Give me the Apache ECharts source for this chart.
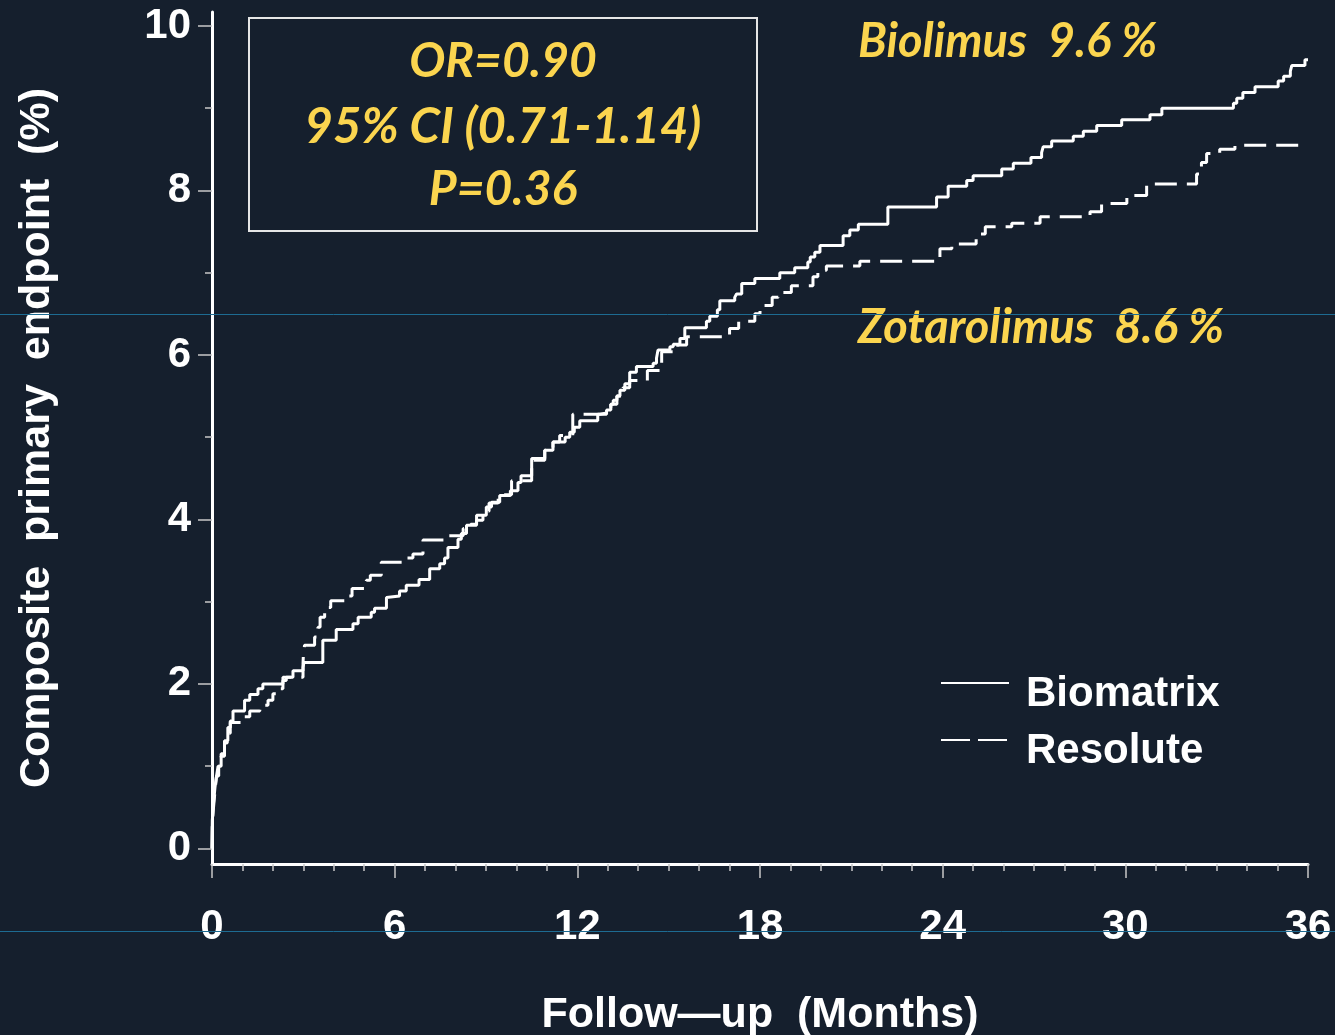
<!DOCTYPE html>
<html>
<head>
<meta charset="utf-8">
<script src="https://cdn.jsdelivr.net/npm/echarts@6/dist/echarts.min.js"></script>
<style>
html,body{margin:0;padding:0;background:#151f2d;}
#c{width:1335px;height:1035px;}
</style>
</head>
<body>
<div id="c"></div>
<script>
// ---- data ----
const bioMonths = [0,0.01,0.05,0.1,0.14,0.2,0.3,0.41,0.52,0.6,0.69,1.07,1.24,1.51,1.67,2.33,2.44,2.66,2.99,3.02,3.64,4.08,4.63,4.8,5.23,5.34,5.73,5.78,6.16,6.38,6.8,7.15,7.48,7.64,7.75,8.08,8.19,8.36,8.69,9.01,9.18,9.45,9.8,10.05,10.15,10.5,10.93,11.2,11.6,11.75,11.9,12.08,12.67,12.96,13.1,13.18,13.3,13.4,13.56,13.72,13.94,14.49,14.6,14.65,15.04,15.15,15.37,15.53,16.24,16.35,16.6,16.68,17.17,17.23,17.4,17.83,18.65,19.14,19.57,19.65,19.8,19.97,20.73,20.95,21.23,22.2,23.8,24.18,24.79,25.0,25.94,26.32,26.9,27.25,27.3,27.58,28.29,28.62,29.06,29.88,30.81,31.2,33.55,33.66,33.86,34.26,35.02,35.2,35.42,35.47,35.9,36];
const bioPct    = [0,0.34,0.55,0.75,0.86,1.0,1.15,1.31,1.47,1.55,1.67,1.8,1.87,1.94,2.0,2.04,2.08,2.16,2.2,2.26,2.53,2.66,2.73,2.81,2.87,2.92,3.05,3.07,3.13,3.2,3.27,3.4,3.46,3.53,3.66,3.76,3.83,3.93,4.05,4.15,4.21,4.29,4.35,4.45,4.53,4.74,4.84,4.94,5.0,5.06,5.12,5.2,5.28,5.33,5.4,5.45,5.5,5.57,5.65,5.79,5.86,5.9,5.96,6.06,6.1,6.13,6.2,6.33,6.41,6.47,6.55,6.66,6.7,6.74,6.87,6.93,7.0,7.06,7.13,7.19,7.25,7.33,7.45,7.52,7.59,7.8,7.92,8.05,8.12,8.18,8.26,8.33,8.4,8.46,8.53,8.6,8.66,8.72,8.79,8.86,8.92,9.0,9.06,9.12,9.19,9.26,9.33,9.39,9.45,9.52,9.59,9.59];

const resMonths = [0,0.01,0.05,0.1,0.15,0.22,0.3,0.41,0.5,0.6,1.0,1.24,1.57,1.84,2.0,2.1,2.33,2.99,3.0,3.04,3.37,3.48,3.55,3.7,3.9,4.36,4.6,5.07,5.2,5.56,6.42,6.6,6.93,7.7,8.25,8.5,8.69,8.9,9.1,9.4,9.84,10.5,10.93,11.2,11.42,11.85,12.74,13.1,13.3,13.5,13.72,14.3,14.77,15.3,15.59,17.0,17.3,17.83,18.0,18.4,18.6,19.03,19.74,19.9,20.18,21.28,23.91,24.3,25.1,25.4,26.27,27.2,28.84,29.22,30.05,30.7,32.34,32.5,32.67,33.1,33.6,36];
const resPct    = [0,0.3,0.5,0.7,0.88,1.0,1.12,1.28,1.4,1.53,1.6,1.67,1.74,1.8,1.88,1.94,2.08,2.25,2.34,2.47,2.57,2.69,2.81,2.93,3.01,3.07,3.16,3.26,3.32,3.48,3.53,3.58,3.75,3.8,3.89,3.94,3.99,4.1,4.2,4.3,4.47,4.72,4.84,4.94,5.02,5.28,5.3,5.4,5.5,5.6,5.69,5.81,6.04,6.12,6.22,6.32,6.41,6.5,6.6,6.7,6.76,6.84,6.95,7.03,7.08,7.14,7.29,7.35,7.47,7.56,7.6,7.68,7.74,7.84,7.94,8.08,8.2,8.34,8.45,8.5,8.55,8.55];

const xTickLabels = [0,6,12,18,24,30,36];
const xMinorTicks = [0,1,2,3,4,5,6,7,8,9,10,11,12,13,14,15,16,17,18,19,20,21,22,23,24,25,26,27,28,29,30,31,32,33,34,35,36];
const yTickLabels = [0,2,4,6,8,10];
const yMinorTicks = [1,3,5,7,9];

const seriesNames = ['Biomatrix','Resolute'];
const boxLines = ['OR=0.90','95% CI (0.71-1.14)','P=0.36'];
const endLabels = ['Biolimus  9.6 %','Zotarolimus  8.6 %'];

// ---- chart ----
const zip = (a,b) => a.map((v,i)=>[v,b[i]]);
const WHITE = '#ffffff';
const YEL = '#fbd54f';
const TICK = '#c8c8c8';
const AX = 'Liberation Sans, Arial, sans-serif';
const CAL = 'Lato, Open Sans, sans-serif';
const TEAL = '#1d6b92';

const chart = echarts.init(document.getElementById('c'), null, {renderer:'canvas'});
chart.setOption({
  backgroundColor:'#151f2d',
  animation:false,
  grid:{left:212,right:27,top:12,bottom:171,containLabel:false,outerBoundsMode:'none'},
  xAxis:[
    {type:'value',min:0,max:36,position:'bottom',
     axisLine:{show:true,onZero:false,lineStyle:{color:WHITE,width:3}},
     axisTick:{show:true,customValues:xTickLabels,length:14,lineStyle:{color:TICK,width:1.5}},
     axisLabel:{show:true,customValues:xTickLabels,color:WHITE,fontSize:42,fontWeight:'bold',fontFamily:AX,margin:42},
     splitLine:{show:false},
     name:'Follow\u2014up  (Months)',nameLocation:'middle',nameGap:130,
     nameTextStyle:{color:WHITE,fontSize:43,fontWeight:'bold',fontFamily:AX}},
    {type:'value',min:0,max:36,position:'bottom',
     axisLine:{show:false,onZero:false},
     axisTick:{show:true,customValues:xMinorTicks,length:7,lineStyle:{color:TICK,width:1.5}},
     axisLabel:{show:false},splitLine:{show:false}}
  ],
  yAxis:[
    {type:'value',min:-0.19,max:10.17,position:'left',
     axisLine:{show:true,onZero:false,lineStyle:{color:WHITE,width:3}},
     axisTick:{show:true,customValues:yTickLabels,length:14,lineStyle:{color:TICK,width:1.5}},
     axisLabel:{show:true,customValues:yTickLabels,color:WHITE,fontSize:42,fontWeight:'bold',fontFamily:AX,margin:21},
     splitLine:{show:false},
     name:'Composite  primary  endpoint  (%)',nameLocation:'middle',nameRotate:90,nameGap:153,
     nameTextStyle:{color:WHITE,fontSize:43,fontWeight:'bold',fontFamily:AX}},
    {type:'value',min:-0.19,max:10.17,position:'left',
     axisLine:{show:false,onZero:false},
     axisTick:{show:true,customValues:yMinorTicks,length:7,lineStyle:{color:TICK,width:1.5}},
     axisLabel:{show:false},splitLine:{show:false}}
  ],
  series:[
    {name:seriesNames[0],type:'line',step:'end',symbol:'none',xAxisIndex:0,yAxisIndex:0,
     data:zip(bioMonths,bioPct),lineStyle:{color:WHITE,width:3},z:3},
    {name:seriesNames[1],type:'line',step:'end',symbol:'none',xAxisIndex:0,yAxisIndex:0,
     data:zip(resMonths,resPct),lineStyle:{color:WHITE,width:3,type:[22,10]},z:3}
  ],
  graphic:[
    {type:'rect',shape:{x:249,y:18,width:508,height:213},style:{fill:'none',stroke:'#e6e6e6',lineWidth:2},z:10},
    {type:'text',x:503,y:62,style:{text:boxLines[0],font:'italic bold 48px '+CAL,fill:YEL,align:'center',verticalAlign:'middle',textAlign:'center',textVerticalAlign:'middle'},z:10},
    {type:'text',x:503,y:127,style:{text:boxLines[1],font:'italic bold 49px '+CAL,fill:YEL,align:'center',verticalAlign:'middle',textAlign:'center',textVerticalAlign:'middle'},z:10},
    {type:'text',x:503,y:190,style:{text:boxLines[2],font:'italic bold 48px '+CAL,fill:YEL,align:'center',verticalAlign:'middle',textAlign:'center',textVerticalAlign:'middle'},z:10},
    {type:'text',x:858,y:42,style:{text:endLabels[0],font:'italic bold 47px '+CAL,fill:YEL,align:'left',verticalAlign:'middle',textAlign:'left',textVerticalAlign:'middle'},z:10},
    {type:'text',x:858,y:328,style:{text:endLabels[1],font:'italic bold 47px '+CAL,fill:YEL,align:'left',verticalAlign:'middle',textAlign:'left',textVerticalAlign:'middle'},z:10},
    // legend
    {type:'line',shape:{x1:941,y1:683,x2:1009,y2:683},style:{stroke:WHITE,lineWidth:2},z:10},
    {type:'line',shape:{x1:941,y1:740,x2:1009,y2:740},style:{stroke:WHITE,lineWidth:2,lineDash:[29,8]},z:10},
    {type:'text',x:1026,y:694,style:{text:seriesNames[0],font:'bold 42px '+AX,fill:WHITE,align:'left',verticalAlign:'middle',textAlign:'left',textVerticalAlign:'middle'},z:10},
    {type:'text',x:1026,y:751,style:{text:seriesNames[1],font:'bold 42px '+AX,fill:WHITE,align:'left',verticalAlign:'middle',textAlign:'left',textVerticalAlign:'middle'},z:10},
    // thin teal slide lines
    {type:'line',shape:{x1:0,y1:314.5,x2:1335,y2:314.5},style:{stroke:TEAL,lineWidth:1},z:20},
    {type:'line',shape:{x1:0,y1:931.5,x2:1335,y2:931.5},style:{stroke:TEAL,lineWidth:1},z:20}
  ]
});
</script>
</body>
</html>
